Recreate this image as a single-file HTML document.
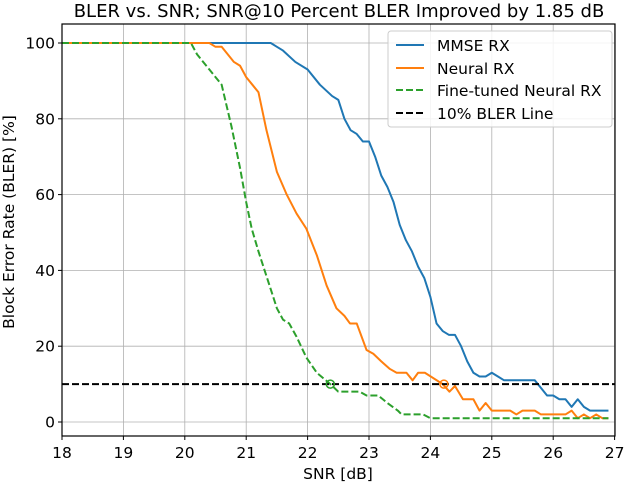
<!DOCTYPE html>
<html><head><meta charset="utf-8"><style>
body{margin:0;background:#fff}
svg{display:block;font-family:"DejaVu Sans","Liberation Sans",sans-serif}
</style></head><body>
<svg id="chart" width="624" height="484" viewBox="0 0 624 484" xmlns="http://www.w3.org/2000/svg">
<text x="339" y="17" font-size="18" text-anchor="middle" fill="#000">BLER vs. SNR; SNR@10 Percent BLER Improved by 1.85 dB</text>
<g id="grid"></g><g id="ticks"></g><g id="series"></g>
<rect x="62" y="24" width="553" height="412" fill="none" stroke="#000" stroke-width="1.2"/>
<text x="338" y="479" font-size="15.5" text-anchor="middle">SNR [dB]</text>
<text transform="translate(14,222) rotate(-90)" font-size="15.5" text-anchor="middle">Block Error Rate (BLER) [%]</text>
<g>
<rect x="388" y="31" width="224" height="96" rx="3" fill="#fff" fill-opacity="0.85" stroke="#ccc"/>
<line x1="396" y1="45" x2="424" y2="45" stroke="#1f77b4" stroke-width="2"/>
<text x="437" y="51" font-size="15.5">MMSE RX</text>
<line x1="396" y1="68" x2="424" y2="68" stroke="#ff7f0e" stroke-width="2"/>
<text x="437" y="74" font-size="15.5">Neural RX</text>
<line x1="396" y1="90" x2="424" y2="90" stroke="#2ca02c" stroke-width="2" stroke-dasharray="7,3"/>
<text x="437" y="96" font-size="15.5">Fine-tuned Neural RX</text>
<line x1="396" y1="113" x2="424" y2="113" stroke="#000" stroke-width="2" stroke-dasharray="7,3"/>
<text x="437" y="119" font-size="15.5">10% BLER Line</text>
</g>
</svg>
<script>
const xTicks=[18,19,20,21,22,23,24,25,26,27];
const yTicks=[0,20,40,60,80,100];
const mmseSnr=[18,21.4,21.5,21.6,21.8,22.0,22.2,22.4,22.5,22.6,22.7,22.8,22.9,23.0,23.1,23.2,23.3,23.4,23.5,23.6,23.7,23.8,23.9,24.0,24.1,24.2,24.3,24.4,24.5,24.6,24.7,24.8,24.9,25.0,25.1,25.2,25.7,25.8,25.9,26.0,26.1,26.2,26.3,26.4,26.5,26.6,26.9];
const mmseBler=[100,100,99,98,95,93,89,86,85,80,77,76,74,74,70,65,62,58,52,48,45,41,38,33,26,24,23,23,20,16,13,12,12,13,12,11,11,9,7,7,6,6,4,6,4,3,3];
const neuralSnr=[18,20.4,20.5,20.6,20.7,20.8,20.9,21.0,21.1,21.2,21.33,21.5,21.66,21.82,21.98,22.15,22.31,22.47,22.6,22.69,22.8,22.96,23.07,23.2,23.34,23.45,23.61,23.71,23.8,23.91,24.2,24.31,24.4,24.53,24.7,24.8,24.9,25.0,25.3,25.4,25.5,25.7,25.8,26.2,26.3,26.4,26.5,26.6,26.7,26.8,26.9];
const neuralBler=[100,100,99,99,97,95,94,91,89,87,77,66,60,55,51,44,36,30,28,26,26,19,18,16,14,13,13,11,13,13,10,8,9.5,6,6,3,5,3,3,2,3,3,2,2,3,1,2,1,2,1,1];
const ftSnr=[18,20.1,20.2,20.3,20.4,20.5,20.6,20.76,20.9,21.0,21.09,21.2,21.3,21.4,21.5,21.6,21.7,21.82,21.98,22.15,22.37,22.5,22.85,22.96,23.15,23.3,23.47,23.53,23.88,24.0,26.9];
const ftBler=[100,100,97,95,93,91,89,78,67,58,51,45,40,35,30,27,26,22.5,17,13,10,8,8,7,7,5,3,2,2,1,1];
const markerSnr=[22.37,24.22];
const markerBler=[10,10];
const threshold=10;
const NS='http://www.w3.org/2000/svg';
const X=v=>62+(v-18)*61.4;
const Y=v=>422-v*3.79;
function mk(t,a,p){const e=document.createElementNS(NS,t);for(const k in a)e.setAttribute(k,a[k]);p.appendChild(e);return e;}
const grid=document.getElementById('grid'),ticks=document.getElementById('ticks'),ser=document.getElementById('series');
xTicks.forEach(t=>{
 const g=mk('line',{x1:X(t),x2:X(t),y1:24,y2:436,stroke:'#b0b0b0','stroke-width':0.8},grid);
 
 
 mk('line',{x1:X(t),x2:X(t),y1:436,y2:440,stroke:'#000'},ticks);
 const l=mk('text',{x:X(t),y:458,'font-size':15.5,'text-anchor':'middle'},ticks);l.textContent=t;
 
 
});
yTicks.forEach(t=>{
 const g=mk('line',{x1:62,x2:615,y1:Y(t),y2:Y(t),stroke:'#b0b0b0','stroke-width':0.8},grid);
 
 
 mk('line',{x1:58,x2:62,y1:Y(t),y2:Y(t),stroke:'#000'},ticks);
 const l=mk('text',{x:55,y:Y(t)+5.5,'font-size':15.5,'text-anchor':'end'},ticks);l.textContent=t;
 
 
});
function line(xs,ys,color,dash,name){
 const p=mk('polyline',{points:xs.map((x,i)=>X(x)+','+Y(ys[i])).join(' '),fill:'none',stroke:color,'stroke-width':2,'stroke-dasharray':dash||'none','stroke-linejoin':'round'},ser);
 
 
}
line(mmseSnr,mmseBler,'#1f77b4',null,'mmse-line');
line(neuralSnr,neuralBler,'#ff7f0e',null,'neural-line');
line(ftSnr,ftBler,'#2ca02c','7,3','finetuned-line');
const th=mk('line',{x1:62,x2:615,y1:Y(threshold),y2:Y(threshold),stroke:'#000','stroke-width':2,'stroke-dasharray':'7,3'},ser);


['#2ca02c','#ff7f0e'].forEach((c,i)=>{
 const m=mk('circle',{cx:X(markerSnr[i]),cy:Y(markerBler[i]),r:4,fill:'none',stroke:c,'stroke-width':1.5},ser);
 
 
});
</script>
</body></html>
